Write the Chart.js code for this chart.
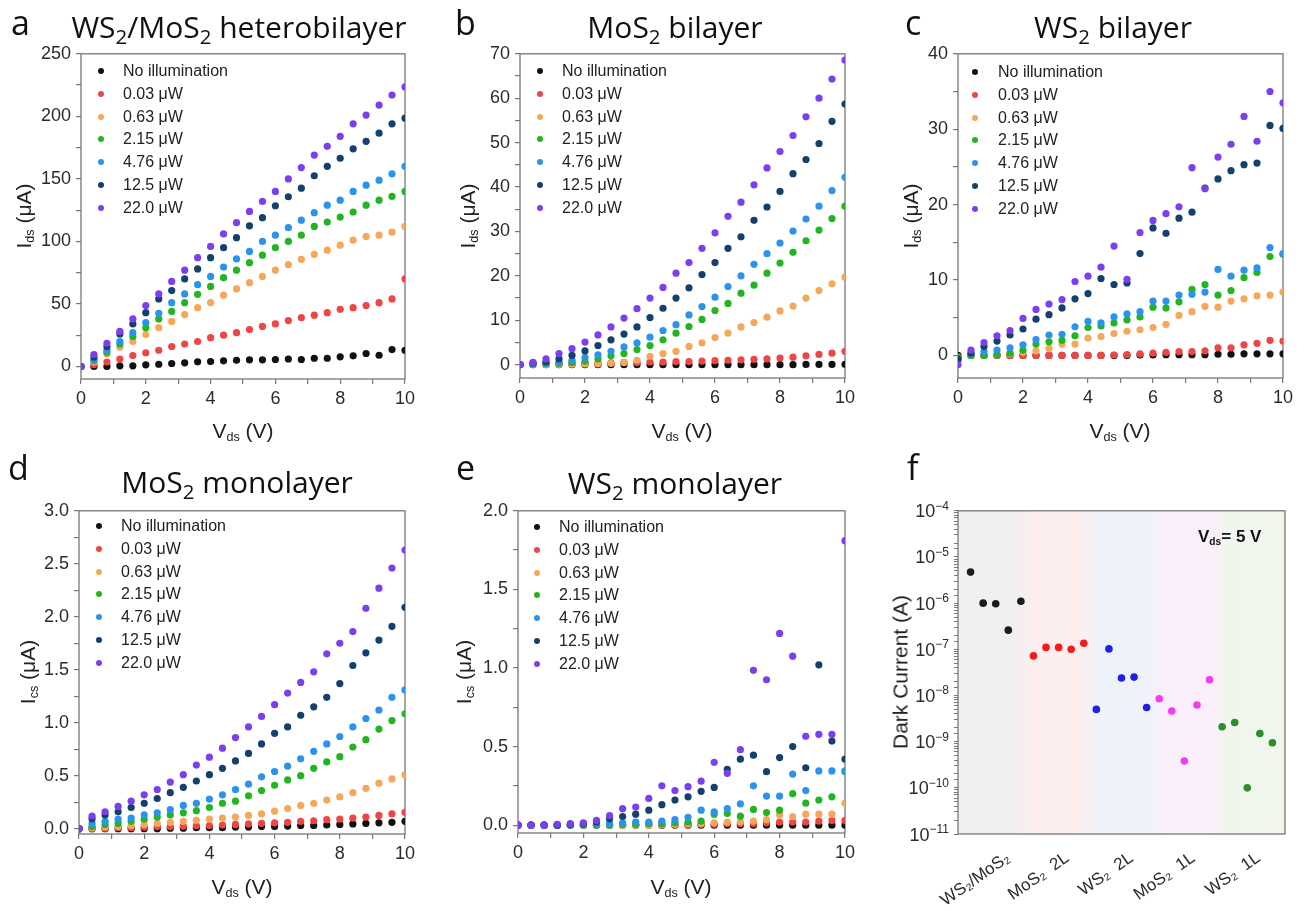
<!DOCTYPE html>
<html>
<head>
<meta charset="utf-8">
<script src="https://cdn.jsdelivr.net/npm/chart.js@4.4.1/dist/chart.umd.min.js"></script>
<style>
  body { margin: 0; background: #fff; }
  #fig { position: relative; width: 1310px; height: 911px; overflow: hidden;
         font-family: "Liberation Sans", Arial, sans-serif; color: #222; }
  #fig canvas { position: absolute; }
  .txt { position: absolute; white-space: nowrap; line-height: 1; }
  .letter { font-family: "Open Sans", sans-serif; font-size: 34px; color: #111; }
  .title { font-family: "Open Sans", sans-serif; font-size: 30px; color: #111; transform: translateX(-50%); }
  .title sub { font-size: 0.68em; vertical-align: -0.28em; line-height: 0; }
  .ytitle { font-size: 21px; transform: translate(-50%, -50%) rotate(-90deg); }
  .xtitle { font-size: 21px; transform: translate(-50%, -50%); }
  .ytitle sub, .xtitle sub, .note sub { font-size: 0.6em; vertical-align: -0.3em; line-height: 0; }
  .note { font-size: 17px; font-weight: bold; color: #111; }
  .legend-row { position: absolute; height: 22px; display: flex; align-items: center; font-size: 16px; color: #222; white-space: nowrap; }
  .dot { display: inline-block; width: 6px; height: 6px; border-radius: 50%; }
</style>
</head>
<body>
<div id="fig"></div>
<script>
// bias voltage (V) shared by panels a-e
const vds = [0, 0.4, 0.8, 1.2, 1.6, 2, 2.4, 2.8, 3.2, 3.6, 4, 4.4, 4.8, 5.2, 5.6, 6, 6.4, 6.8, 7.2, 7.6, 8, 8.4, 8.8, 9.2, 9.6, 10];

const powerLabels = ["No illumination", "0.03 \u03bcW", "0.63 \u03bcW", "2.15 \u03bcW", "4.76 \u03bcW", "12.5 \u03bcW", "22.0 \u03bcW"];
const powerColors = ["#111111", "#ee4545", "#f5a85a", "#22b522", "#2a93ee", "#14406e", "#7c3ff0"];

// Ids (uA), one row per illumination power, same order as powerLabels
const heteroBilayer = [
  [0, 0, 0, 0.5, 0.5, 1.3, 1.8, 2.4, 2.9, 3.7, 4, 4.5, 5, 5.3, 5.3, 5.6, 6, 5.6, 6.6, 6.6, 7.7, 8.5, 10.4, 9, 13.5, 13],
  [0, 1.6, 3.5, 6, 8.8, 11, 13, 16, 18, 20, 23, 25, 27, 29.5, 32, 34, 36.7, 39, 41, 43, 45.7, 47, 48.7, 51, 54, 70],
  [0, 3.5, 10, 15.4, 20, 25.5, 31, 36, 41.5, 47, 51, 57, 62, 67, 72, 77, 81.4, 85.6, 89.6, 93, 97, 101, 104, 105, 107.5, 112],
  [0, 4.8, 11.4, 18, 24, 31, 38, 44, 51, 57.7, 64, 71, 77, 83, 89, 95, 100, 105, 112, 115.5, 119.5, 123.5, 129, 133, 136, 140],
  [0, 5.6, 13, 20, 27, 35, 42.5, 51, 58, 65.4, 72, 79.5, 86, 92, 100, 105, 111, 117, 123, 129, 133, 140, 145, 149, 154, 160],
  [0, 7.5, 16, 26, 34, 43, 54, 60.7, 70, 78, 87, 95, 103, 112.5, 119, 128.5, 135.7, 142.6, 152.5, 160, 166.5, 174, 180, 186.5, 194, 198.5],
  [0, 9.6, 18.6, 28, 38, 48.7, 58, 68, 77, 87, 96, 106, 115, 124, 132, 140, 150, 159, 169, 176, 184, 194, 201, 209, 217, 223.5],
];
const mos2Bilayer = [
  [0, 0, 0, 0, 0, 0, 0, 0, 0, 0, 0, 0, 0, 0, 0, 0, 0, 0, 0, 0, 0, 0, 0.05, 0.05, 0.05, 0.1],
  [0, 0.1, 0.2, 0.2, 0.3, 0.3, 0.4, 0.4, 0.5, 0.5, 0.6, 0.6, 0.7, 0.7, 0.8, 0.9, 1.0, 1.1, 1.2, 1.3, 1.5, 1.7, 2.0, 2.3, 2.6, 3.0],
  [0, 0, 0, 0.05, 0.1, 0.15, 0.2, 0.3, 0.5, 1.0, 1.9, 2.5, 3.0, 4.1, 4.9, 6.1, 7.1, 8.5, 9.5, 10.7, 12.1, 13.2, 15, 16.7, 18.2, 19.7],
  [0, 0.1, 0.2, 0.3, 0.5, 0.8, 1.3, 2.0, 2.5, 3.4, 4.3, 5.6, 7.1, 8.6, 10.2, 12.2, 13.8, 16.1, 17.9, 20.6, 22.9, 25.3, 27.9, 30.3, 32.9, 35.7],
  [0, 0.2, 0.3, 0.6, 1.0, 1.6, 2.2, 3.0, 4.0, 4.9, 6.2, 7.7, 9.0, 11.2, 13.1, 15.2, 17.6, 20, 22.6, 25, 27.4, 30.1, 32.8, 35.7, 39.2, 42.2],
  [0, 0.4, 0.6, 1.3, 2.1, 3.1, 4.3, 5.6, 6.9, 8.5, 10.6, 12.7, 15, 17.3, 20.3, 23, 26.2, 28.8, 32.5, 35.5, 39, 43, 46.2, 49.8, 54.8, 58.7],
  [0, 0.5, 1.3, 2.5, 3.6, 5.1, 6.7, 8.5, 10.5, 12.6, 15, 17.4, 20.6, 23, 26.2, 29.7, 33.4, 36.6, 40.5, 44.3, 48, 51.6, 55.8, 60, 64.3, 68.6],
];
const ws2Bilayer = [
  [0, 0, 0, 0, 0, 0, 0, 0, 0, 0, 0, 0, 0, 0, 0.05, 0.05, 0.1, 0.1, 0.1, 0.1, 0.15, 0.15, 0.2, 0.2, 0.2, 0.2],
  [-0.2, 0, 0, 0, 0, 0, 0, 0, 0, 0, 0, 0, 0.05, 0.1, 0.2, 0.3, 0.4, 0.5, 0.5, 0.6, 1.0, 1.0, 1.4, 1.6, 2.0, 1.9],
  [-0.3, 0, 0, 0.1, 0.2, 0.4, 0.6, 0.9, 1.5, 1.5, 2.3, 2.5, 2.9, 3.2, 3.4, 3.7, 4.1, 5.3, 5.8, 6.5, 6.4, 7.2, 7.5, 7.9, 8.0, 8.4],
  [-0.3, 0, 0, 0.1, 0.3, 0.7, 1.5, 1.8, 2.0, 2.6, 3.7, 3.9, 4.3, 4.7, 5.1, 6.4, 6.3, 7.1, 8.75, 9.4, 8.0, 8.6, 10.3, 11.0, 13.1, 13.4],
  [-0.6, 0.2, 0.5, 0.7, 1.0, 1.4, 2.1, 2.7, 2.8, 3.8, 4.5, 4.3, 5.1, 5.5, 5.8, 7.2, 7.2, 8.0, 8.1, 8.4, 11.4, 10.5, 11.3, 11.6, 14.3, 13.5],
  [-0.5, 0.3, 1.2, 1.9, 2.7, 3.5, 4.8, 5.4, 6.3, 7.5, 8.2, 10.2, 9.4, 9.6, 13.5, 16.9, 16.2, 18.2, 19.0, 22.2, 23.4, 24.5, 25.3, 25.5, 30.5, 30.1],
  [-1.25, 0.7, 1.7, 2.6, 3.3, 4.9, 6.1, 6.8, 7.4, 9.8, 10.5, 11.7, 14.5, 10.1, 16.3, 17.9, 18.8, 19.7, 24.9, 22.1, 26.3, 28, 31.7, 28.4, 35, 33.5],
];
const mos2Monolayer = [
  [0, 0, 0, 0, 0, 0, 0, 0.005, 0.005, 0.01, 0.01, 0.01, 0.015, 0.015, 0.02, 0.02, 0.025, 0.03, 0.03, 0.035, 0.04, 0.045, 0.05, 0.055, 0.06, 0.07],
  [0, 0, 0.005, 0.01, 0.01, 0.015, 0.02, 0.02, 0.025, 0.03, 0.03, 0.035, 0.04, 0.045, 0.05, 0.055, 0.06, 0.07, 0.075, 0.085, 0.09, 0.10, 0.11, 0.125, 0.14, 0.155],
  [0, 0.01, 0.015, 0.02, 0.03, 0.04, 0.05, 0.06, 0.07, 0.08, 0.09, 0.10, 0.11, 0.125, 0.14, 0.165, 0.19, 0.22, 0.24, 0.27, 0.30, 0.34, 0.38, 0.43, 0.47, 0.51],
  [0, 0.02, 0.04, 0.05, 0.07, 0.09, 0.11, 0.13, 0.15, 0.17, 0.20, 0.24, 0.26, 0.31, 0.36, 0.41, 0.46, 0.50, 0.57, 0.63, 0.68, 0.77, 0.84, 0.94, 1.02, 1.085],
  [0, 0.05, 0.07, 0.09, 0.10, 0.13, 0.15, 0.18, 0.22, 0.24, 0.28, 0.32, 0.37, 0.42, 0.49, 0.54, 0.59, 0.66, 0.73, 0.80, 0.87, 0.96, 1.04, 1.12, 1.24, 1.31],
  [0, 0.095, 0.13, 0.16, 0.20, 0.24, 0.285, 0.34, 0.39, 0.45, 0.51, 0.57, 0.64, 0.71, 0.80, 0.90, 0.96, 1.07, 1.15, 1.24, 1.37, 1.54, 1.66, 1.78, 1.91, 2.09],
  [0, 0.12, 0.16, 0.21, 0.26, 0.32, 0.37, 0.44, 0.51, 0.60, 0.675, 0.76, 0.86, 0.96, 1.06, 1.17, 1.28, 1.38, 1.48, 1.65, 1.75, 1.86, 2.08, 2.27, 2.46, 2.63],
];
const ws2Monolayer = [
  [0, 0, 0, 0, 0, 0, 0, 0, 0, 0, 0, 0, 0, 0, 0, 0, 0, 0, 0, 0, 0, 0, 0, 0, 0, 0],
  [0, 0, 0, 0, 0, 0, 0, 0, 0, 0, 0, 0, 0, 0, 0.005, 0.005, 0.01, 0.01, 0.01, 0.015, 0.02, 0.02, 0.02, 0.025, 0.03, 0.03],
  [0, 0, 0, 0, 0, 0, 0, 0, 0, 0, 0, 0.005, 0.005, 0.01, 0.01, 0.015, 0.02, 0.02, 0.025, 0.035, 0.065, 0.055, 0.07, 0.07, 0.07, 0.14],
  [0, 0, 0, 0, 0, 0, 0, 0, 0.005, 0.005, 0.01, 0.01, 0.015, 0.02, 0.025, 0.07, 0.075, 0.057, 0.10, 0.08, 0.095, 0.20, 0.14, 0.16, 0.18, 0.34],
  [0, 0, 0, 0, 0, 0.005, 0.01, 0.01, 0.015, 0.02, 0.02, 0.025, 0.035, 0.05, 0.095, 0.085, 0.105, 0.135, 0.25, 0.185, 0.185, 0.325, 0.22, 0.345, 0.345, 0.345],
  [0, 0, 0, 0, 0.005, 0.01, 0.02, 0.04, 0.055, 0.07, 0.095, 0.13, 0.16, 0.18, 0.215, 0.24, 0.355, 0.42, 0.445, 0.34, 0.43, 0.50, 0.365, 1.02, 0.535, 0.42],
  [0, 0, 0, 0.005, 0.01, 0.015, 0.03, 0.06, 0.105, 0.115, 0.17, 0.25, 0.22, 0.245, 0.28, 0.40, 0.33, 0.48, 0.985, 0.925, 1.22, 1.075, 0.565, 0.578, 0.578, 1.81],
];

// panel f: dark current (A) at Vds = 5 V, five devices per material
const materialLabels = ["WS\u2082/MoS\u2082", "MoS\u2082  2L", "WS\u2082  2L", "MoS\u2082  1L", "WS\u2082  1L"];
const materialColors = ["#1c1c1c", "#f21c1c", "#1f1fe8", "#f23cf2", "#2a8f2a"];
const bandColors = ["#f0f0f0", "#fdeeee", "#eef3fb", "#fbeffb", "#eff6ec"];
const deviceIndex = [[1, 2, 3, 4, 5], [6, 7, 8, 9, 10], [11, 12, 13, 14, 15], [16, 17, 18, 19, 20], [21, 22, 23, 24, 25]];
const darkWS2MoS2 = [4.7e-6, 1.0e-6, 9.7e-7, 2.6e-7, 1.1e-6];
const darkMoS2Bi = [7.2e-8, 1.1e-7, 1.1e-7, 1.0e-7, 1.35e-7];
const darkWS2Bi = [5.0e-9, 1.02e-7, 2.4e-8, 2.5e-8, 5.5e-9];
const darkMoS2Mono = [8.5e-9, 4.6e-9, 3.8e-10, 6.2e-9, 2.2e-8];
const darkWS2Mono = [2.1e-9, 2.6e-9, 1.0e-10, 1.5e-9, 9.5e-10];
const bandEdges = [0, 5.2, 10.4, 15.6, 20.8, 26];
const categoryTicks = [4.0, 8.7, 13.8, 18.7, 23.9];

const fig = document.getElementById("fig");
const tickFont = { size: 18, family: "Liberation Sans" };
const tickColor = "#2b2b2b";
const axisColor = "#777777";

const framePlugin = {
  id: "frame",
  beforeDatasetsDraw(chart) {
    const { ctx, chartArea: a } = chart;
    ctx.save();
    ctx.strokeStyle = axisColor;
    ctx.lineWidth = 1.3;
    ctx.strokeRect(a.left, a.top, a.right - a.left, a.bottom - a.top);
    ctx.restore();
  },
};

// soft coloured bands behind each material group
const bandPlugin = {
  id: "bands",
  beforeDatasetsDraw(chart) {
    const { ctx, chartArea: a } = chart;
    const span = bandEdges[bandEdges.length - 1];
    const g = ctx.createLinearGradient(a.left, 0, a.right, 0);
    bandColors.forEach((c, i) => {
      const e0 = bandEdges[i] / span;
      const e1 = bandEdges[i + 1] / span;
      const w = e1 - e0;
      g.addColorStop(e0 + 0.2 * w, c);
      g.addColorStop(e1 - 0.2 * w, c);
    });
    ctx.save();
    ctx.fillStyle = g;
    ctx.fillRect(a.left, a.top, a.right - a.left, a.bottom - a.top);
    ctx.restore();
  },
};

// "10" with a raised exponent for the log axis
const logLabelPlugin = {
  id: "logLabels",
  afterDraw(chart) {
    const { ctx, scales } = chart;
    const y = scales.y;
    ctx.save();
    ctx.fillStyle = tickColor;
    ctx.textAlign = "left";
    ctx.textBaseline = "alphabetic";
    y.ticks.forEach((t) => {
      const e = Math.log10(t.value);
      if (Math.abs(e - Math.round(e)) > 1e-6) return;
      const exp = String(Math.round(e)).replace("-", "\u2212");
      const py = y.getPixelForValue(t.value);
      ctx.font = '18px "Liberation Sans"';
      const baseW = ctx.measureText("10").width;
      ctx.font = '12px "Liberation Sans"';
      const expW = ctx.measureText(exp).width;
      const x0 = y.right - 9 - baseW - expW;
      ctx.font = '18px "Liberation Sans"';
      ctx.fillText("10", x0, py + 6.5);
      ctx.font = '12px "Liberation Sans"';
      ctx.fillText(exp, x0 + baseW, py - 1);
    });
    ctx.restore();
  },
};

function addCanvas(box, bottom) {
  const canvas = document.createElement("canvas");
  canvas.width = box.r - box.l + 115;
  canvas.height = box.b - box.t + 15 + bottom;
  canvas.style.left = box.l - 90 + "px";
  canvas.style.top = box.t - 15 + "px";
  fig.appendChild(canvas);
  return canvas;
}

function addText(cls, html, left, top) {
  const d = document.createElement("div");
  d.className = "txt " + cls;
  d.innerHTML = html;
  d.style.left = left + "px";
  d.style.top = top + "px";
  fig.appendChild(d);
  return d;
}

function addLegend(dotX, firstY, textX) {
  powerLabels.forEach((label, k) => {
    const row = document.createElement("div");
    row.className = "legend-row";
    row.style.left = dotX - 3 + "px";
    row.style.top = firstY - 11 + k * 22.8 + "px";
    row.innerHTML = '<span class="dot" style="background:' + powerColors[k] + '"></span>' +
      '<span style="margin-left:' + (textX - dotX - 3) + 'px">' + label + "</span>";
    fig.appendChild(row);
  });
}

function ivChart(box, series, yMin, yMax, yMinor, yMajor, digits) {
  const ctx = addCanvas(box, 45).getContext("2d");
  const datasets = series.map((ys, k) => ({
    label: powerLabels[k],
    data: vds.map((x, i) => ({ x: x, y: ys[i] })),
    backgroundColor: powerColors[k],
    borderWidth: 0,
    pointRadius: 3.6,
    order: series.length - k,
  }));
  return new Chart(ctx, {
    type: "scatter",
    data: { datasets: datasets },
    options: {
      responsive: false,
      animation: false,
      devicePixelRatio: 1,
      layout: { padding: { top: 15, right: 25, left: 0, bottom: 0 } },
      plugins: { legend: { display: false }, tooltip: { enabled: false } },
      scales: {
        x: {
          type: "linear",
          min: 0,
          max: 10,
          afterFit: (s) => { s.height = 45; },
          border: { display: false },
          grid: { drawOnChartArea: false, color: axisColor, tickLength: 5, lineWidth: 1.2 },
          ticks: {
            stepSize: 1,
            autoSkip: false,
            maxRotation: 0,
            padding: 4,
            color: tickColor,
            font: tickFont,
            callback: (v) => (v % 2 === 0 ? String(v) : ""),
          },
        },
        y: {
          min: yMin,
          max: yMax,
          afterFit: (s) => { s.width = 90; },
          border: { display: false },
          grid: { drawOnChartArea: false, color: axisColor, tickLength: 5, lineWidth: 1.2 },
          ticks: {
            stepSize: yMinor,
            includeBounds: false,
            autoSkip: false,
            padding: 5,
            color: tickColor,
            font: tickFont,
            callback: (v) => {
              const r = v / yMajor;
              return Math.abs(r - Math.round(r)) < 1e-6 ? v.toFixed(digits) : "";
            },
          },
        },
      },
    },
    plugins: [framePlugin],
  });
}

function darkChart(box) {
  const ctx = addCanvas(box, 80).getContext("2d");
  const groups = [darkWS2MoS2, darkMoS2Bi, darkWS2Bi, darkMoS2Mono, darkWS2Mono];
  const datasets = groups.map((vals, k) => ({
    label: materialLabels[k],
    data: vals.map((v, i) => ({ x: deviceIndex[k][i], y: v })),
    backgroundColor: materialColors[k],
    borderWidth: 0,
    pointRadius: 3.8,
  }));
  return new Chart(ctx, {
    type: "scatter",
    data: { datasets: datasets },
    options: {
      responsive: false,
      animation: false,
      devicePixelRatio: 1,
      layout: { padding: { top: 15, right: 25, left: 0, bottom: 0 } },
      plugins: { legend: { display: false }, tooltip: { enabled: false } },
      scales: {
        x: {
          type: "linear",
          min: 0,
          max: 26,
          afterFit: (s) => { s.height = 80; },
          afterBuildTicks: (s) => { s.ticks = categoryTicks.map((v) => ({ value: v })); },
          border: { display: false },
          grid: { display: false },
          ticks: {
            autoSkip: false,
            minRotation: 35,
            maxRotation: 35,
            padding: 6,
            color: tickColor,
            font: { size: 17, family: "Liberation Sans" },
            callback: (v, i) => materialLabels[i],
          },
        },
        y: {
          type: "logarithmic",
          min: 1e-11,
          max: 1e-4,
          afterFit: (s) => { s.width = 90; },
          border: { display: false },
          grid: { drawOnChartArea: false, color: axisColor, tickLength: 4, lineWidth: 1 },
          ticks: {
            autoSkip: false,
            padding: 5,
            font: tickFont,
            callback: () => "",
          },
        },
      },
    },
    plugins: [bandPlugin, framePlugin, logLabelPlugin],
  });
}

document.addEventListener("DOMContentLoaded", function () {
  const boxA = { l: 81, t: 53, r: 405, b: 379 };
  const boxB = { l: 520, t: 53, r: 845, b: 378 };
  const boxC = { l: 958, t: 53, r: 1283, b: 378 };
  const boxD = { l: 79, t: 510, r: 405, b: 834 };
  const boxE = { l: 518, t: 510, r: 845, b: 833 };
  const boxF = { l: 958, t: 510, r: 1285, b: 834 };

  ivChart(boxA, heteroBilayer, -10, 250, 25, 50, 0);
  ivChart(boxB, mos2Bilayer, -3, 70, 5, 10, 0);
  ivChart(boxC, ws2Bilayer, -3, 40, 5, 10, 0);
  ivChart(boxD, mos2Monolayer, -0.05, 3, 0.25, 0.5, 1);
  ivChart(boxE, ws2Monolayer, -0.05, 2, 0.25, 0.5, 1);
  darkChart(boxF);

  // panel letters and titles
  addText("letter", "a", 11, 5);
  addText("letter", "b", 455, 5);
  addText("letter", "c", 905, 5);
  addText("letter", "d", 8, 450);
  addText("letter", "e", 456, 450);
  addText("letter", "f", 907, 450);
  addText("title", "WS<sub>2</sub>/MoS<sub>2</sub> heterobilayer", 239, 12);
  addText("title", "MoS<sub>2</sub> bilayer", 675, 12);
  addText("title", "WS<sub>2</sub> bilayer", 1113, 12);
  addText("title", "MoS<sub>2</sub> monolayer", 237, 467);
  addText("title", "WS<sub>2</sub> monolayer", 675, 468);

  // axis titles
  addText("ytitle", "I<sub>ds</sub> (\u03bcA)", 23, 216);
  addText("ytitle", "I<sub>ds</sub> (\u03bcA)", 467, 216);
  addText("ytitle", "I<sub>ds</sub> (\u03bcA)", 910, 216);
  addText("ytitle", "I<sub>cs</sub> (\u03bcA)", 27, 672);
  addText("ytitle", "I<sub>cs</sub> (\u03bcA)", 463, 672);
  addText("ytitle", "Dark Current (A)", 900, 672);
  addText("xtitle", "V<sub>ds</sub> (V)", 243, 430);
  addText("xtitle", "V<sub>ds</sub> (V)", 682, 430);
  addText("xtitle", "V<sub>ds</sub> (V)", 1120, 430);
  addText("xtitle", "V<sub>ds</sub> (V)", 242, 886);
  addText("xtitle", "V<sub>ds</sub> (V)", 681, 886);
  addText("note", "V<sub>ds</sub>= 5 V", 1198, 528);

  // legends inside panels a-e
  addLegend(101, 71, 123);
  addLegend(540, 71, 562);
  addLegend(975, 72, 998);
  addLegend(99, 526, 121);
  addLegend(537, 527, 559);
});
</script>
</body>
</html>
